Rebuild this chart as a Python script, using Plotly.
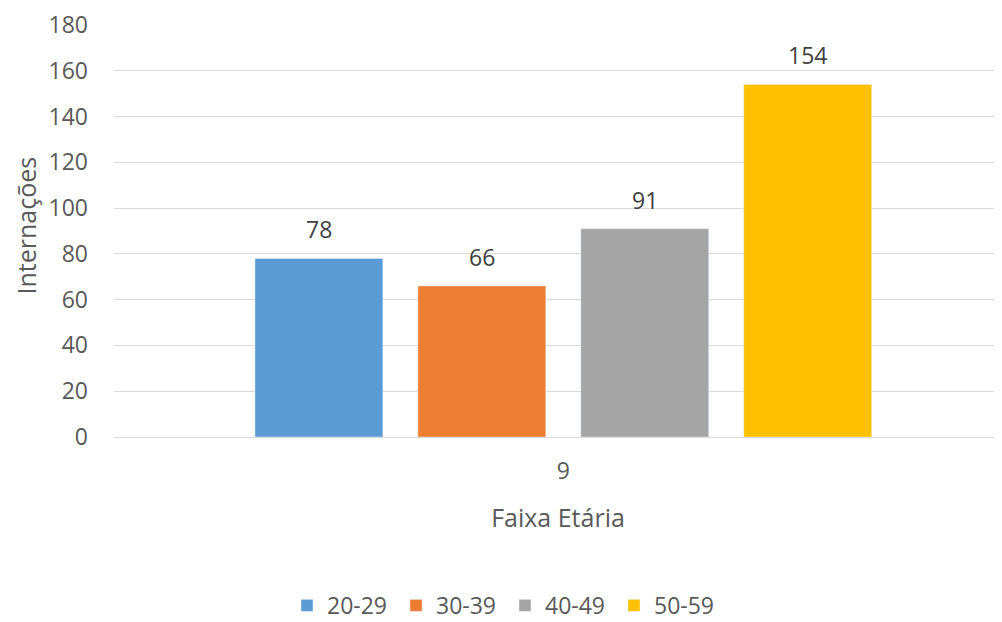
import plotly.graph_objects as go

categories = ["9"]
series_names = ["20-29", "30-39", "40-49", "50-59"]
values = [78, 66, 91, 154]
colors = ["#5B9BD5", "#ED7D31", "#A5A5A5", "#FFC000"]
y_ticks = [0, 20, 40, 60, 80, 100, 120, 140, 160, 180]

font_family = "Open Sans, Noto Sans, DejaVu Sans, sans-serif"
bargap = 0.266
bargroupgap = 0.215

fig = go.Figure()
for name, v, c in zip(series_names, values, colors):
    fig.add_trace(go.Bar(x=categories, y=[v], name=name, marker_color=c))

# data labels centred over each bar of the group (positions derived from bargap)
n = len(values)
slot = (1 - bargap) / n
for i, v in enumerate(values):
    fig.add_annotation(
        x=-(1 - bargap) / 2 + slot * (i + 0.5), y=v, xref="x", yref="y",
        text=str(v), showarrow=False, yanchor="bottom", yshift=11,
        font=dict(size=23, color="#404040", family=font_family),
    )

# y axis title
fig.add_annotation(
    text="Internações", xref="paper", yref="paper", x=0, y=0.5, xanchor="center",
    yanchor="middle", xshift=-89, yshift=5, textangle=-90, showarrow=False,
    font=dict(size=25, color="#595959", family=font_family),
)

# page body has an 8px margin, so the figure is 8px smaller than the window
fig.update_layout(
    width=994, height=614,
    margin=dict(l=106, r=0, t=16, b=185, autoexpand=False),
    plot_bgcolor="white", paper_bgcolor="white",
    barmode="group", bargap=bargap, bargroupgap=bargroupgap,
    font=dict(family=font_family, color="#595959", size=23),
    showlegend=True,
    legend=dict(orientation="h", xref="container", x=0.5, xanchor="center",
                yref="container", y=0.027, yanchor="middle",
                font=dict(size=23, color="#595959"),
                traceorder="normal", itemwidth=30, entrywidth=64),
    xaxis=dict(type="category", range=[-0.506, 0.494], showgrid=False, automargin=False,
               title=dict(text="Faixa Etária", font=dict(size=25, color="#595959"), standoff=24),
               tickfont=dict(size=23, color="#595959"), ticks="", ticklabelstandoff=18,
               showline=False),
    yaxis=dict(range=[0, 180.4], tickvals=y_ticks, showgrid=True, gridcolor="#D9D9D9",
               gridwidth=1, zeroline=True, zerolinecolor="#D9D9D9", zerolinewidth=1,
               automargin=False, ticklabeloverflow="allow",
               tickfont=dict(size=23, color="#595959"), ticklabelstandoff=25, ticks=""),
)

fig.write_html("out.html")
